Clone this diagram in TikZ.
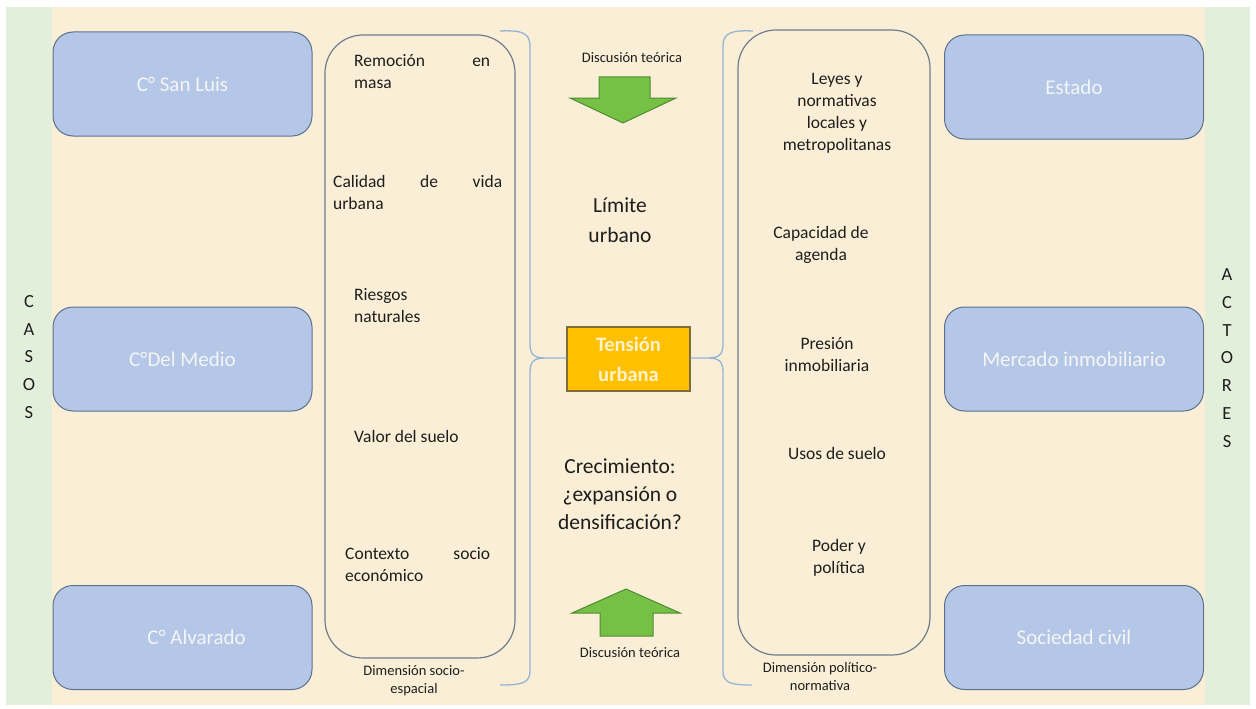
\documentclass[tikz,border=0pt]{standalone}
\usepackage{fontspec}
\setmainfont{Carlito}
\definecolor{beige}{RGB}{250,239,214}
\definecolor{stripgreen}{RGB}{226,239,218}
\definecolor{boxblue}{RGB}{180,199,231}
\definecolor{boxline}{RGB}{92,112,142}
\definecolor{listline}{RGB}{112,124,142}
\definecolor{braceline}{RGB}{150,180,212}
\definecolor{tfill}{RGB}{255,192,0}
\definecolor{tline}{RGB}{125,110,60}
\definecolor{ttext}{RGB}{255,243,205}
\definecolor{agreen}{RGB}{118,192,70}
\definecolor{agreenline}{RGB}{78,140,48}
\definecolor{txt}{RGB}{30,30,30}
\begin{document}
\begin{tikzpicture}[x=1pt,y=-1pt,
  actor/.style={draw=boxline, fill=boxblue, line width=1pt, rounded corners=20pt,
    minimum width=259pt, minimum height=104pt, inner sep=0pt,
    text=white!96!black, font=\fontsize{21}{25}\selectfont},
  listbox/.style={draw=listline, fill=beige, line width=1.2pt, rounded corners=38pt, inner sep=0pt},
  item/.style={inner sep=0pt, text=txt, font=\fontsize{17.5}{22}\selectfont, align=center},
  litem/.style={inner sep=0pt, text=txt, font=\fontsize{17.5}{22}\selectfont, align=left, anchor=north west},
  small/.style={inner sep=0pt, text=txt, font=\fontsize{14.5}{18}\selectfont, align=center},
  big/.style={inner sep=0pt, text=txt, font=\fontsize{21.5}{28}\selectfont, align=center},
  vlet/.style={inner sep=0pt, text=txt, font=\fontsize{18.5}{27.8}\selectfont, align=center},
  brace/.style={draw=braceline, line width=1.3pt},
  garrow/.style={draw=agreenline, fill=agreen, line width=1pt, line join=miter}
]
\useasboundingbox (0,0) rectangle (1256,709);
\fill[white] (0,0) rectangle (1256,709);
\fill[beige] (6,7) rectangle (1250,705);
\fill[stripgreen] (6,7) rectangle (52,705);
\fill[stripgreen] (1205,7) rectangle (1250,705);

% side labels
\node[vlet] (casos) at (29,357) {C\\A\\S\\O\\S};
\node[vlet] (actores) at (1227,358) {A\\C\\T\\O\\R\\E\\S};

% cases
\node[actor] (c1) at (182.5,84) {C° San Luis};
\node[actor] (c2) at (182.5,359) {C°Del Medio};
\node[actor] (c3) at (182.5,637.5) {\hspace*{28pt}C° Alvarado};
% actors
\node[actor] (a1) at (1074,87) {Estado};
\node[actor] (a2) at (1074,359) {Mercado inmobiliario};
\node[actor] (a3) at (1074,637.5) {Sociedad civil};

% list boxes
\node[listbox, minimum width=190pt, minimum height=623pt] (dimA) at (420,346.5) {};
\node[listbox, minimum width=192pt, minimum height=625pt] (dimB) at (834,342.5) {};

% left list items
\node[litem] (l1) at (354,54) {\hbox to 136pt{Remoción\hfill en}\\masa};
\node[litem] (l2) at (333,175) {\hbox to 169pt{Calidad\hfill de\hfill vida}\\urbana};
\node[litem] (l3) at (354,288) {Riesgos\\naturales};
\node[litem] (l4) at (354,430) {Valor del suelo};
\node[litem] (l5) at (345,547) {\hbox to 145pt{Contexto\hfill socio}\\económico};

% right list items
\node[item] (r1) at (837,113) {Leyes y\\normativas\\locales y\\metropolitanas};
\node[item] (r2) at (821,245) {Capacidad de\\agenda};
\node[item] (r3) at (827,355) {Presión\\inmobiliaria};
\node[item] (r4) at (837,453) {Usos de suelo};
\node[item] (r5) at (839,558) {Poder y\\política};

% dimension labels
\node[small] (dl) at (414,681) {Dimensión socio-\\espacial};
\node[small] (dr) at (820,677) {Dimensión político-\\normativa};

% centre
\node[draw=tline, fill=tfill, line width=1.2pt, minimum width=123pt, minimum height=64pt,
  inner sep=0pt, text=ttext, font=\bfseries\fontsize{20.5}{30}\selectfont, align=center]
  (t) at (628.5,359) {Tensión\\urbana};
\node[big, font=\fontsize{21.5}{30}\selectfont] (lim) at (620,220) {Límite\\urbano};
\node[big] (crec) at (620,494) {Crecimiento:\\¿expansión o\\densificación?};
\node[small] (dt1) at (632,58) {Discusión teórica};
\node[small] (dt2) at (630,653) {Discusión teórica};

% arrows
\draw[garrow] (599,77) -- (650,77) -- (650,98) -- (676,98) -- (623,123) -- (570,98) -- (599,98) -- cycle;
\draw[garrow] (626,589) -- (680,613) -- (653,613) -- (653,636) -- (600,636) -- (600,613) -- (572,613) -- cycle;

% braces
\coordinate (lbt) at (500,31);
\coordinate (lbb) at (500,685);
\coordinate (rbt) at (753,31);
\coordinate (rbb) at (752,685);
\draw[brace] (lbt) .. controls (522,30) and (530,33) .. (530,46) -- (530,344)
  .. controls (530,353) and (533,358) .. (544,358) -- (t.west |- 0,358);
\draw[brace] (544,358) .. controls (533,358) and (530,363) .. (530,372) -- (530,671)
  .. controls (530,683) and (522,685) .. (lbb);
\draw[brace] (rbt) .. controls (731,30) and (723,33) .. (723,46) -- (723,344)
  .. controls (723,353) and (720,358) .. (709,358) -- (t.east |- 0,358);
\draw[brace] (709,358) .. controls (720,358) and (723,363) .. (723,372) -- (723,671)
  .. controls (723,683) and (731,685) .. (rbb);
\end{tikzpicture}
\end{document}
